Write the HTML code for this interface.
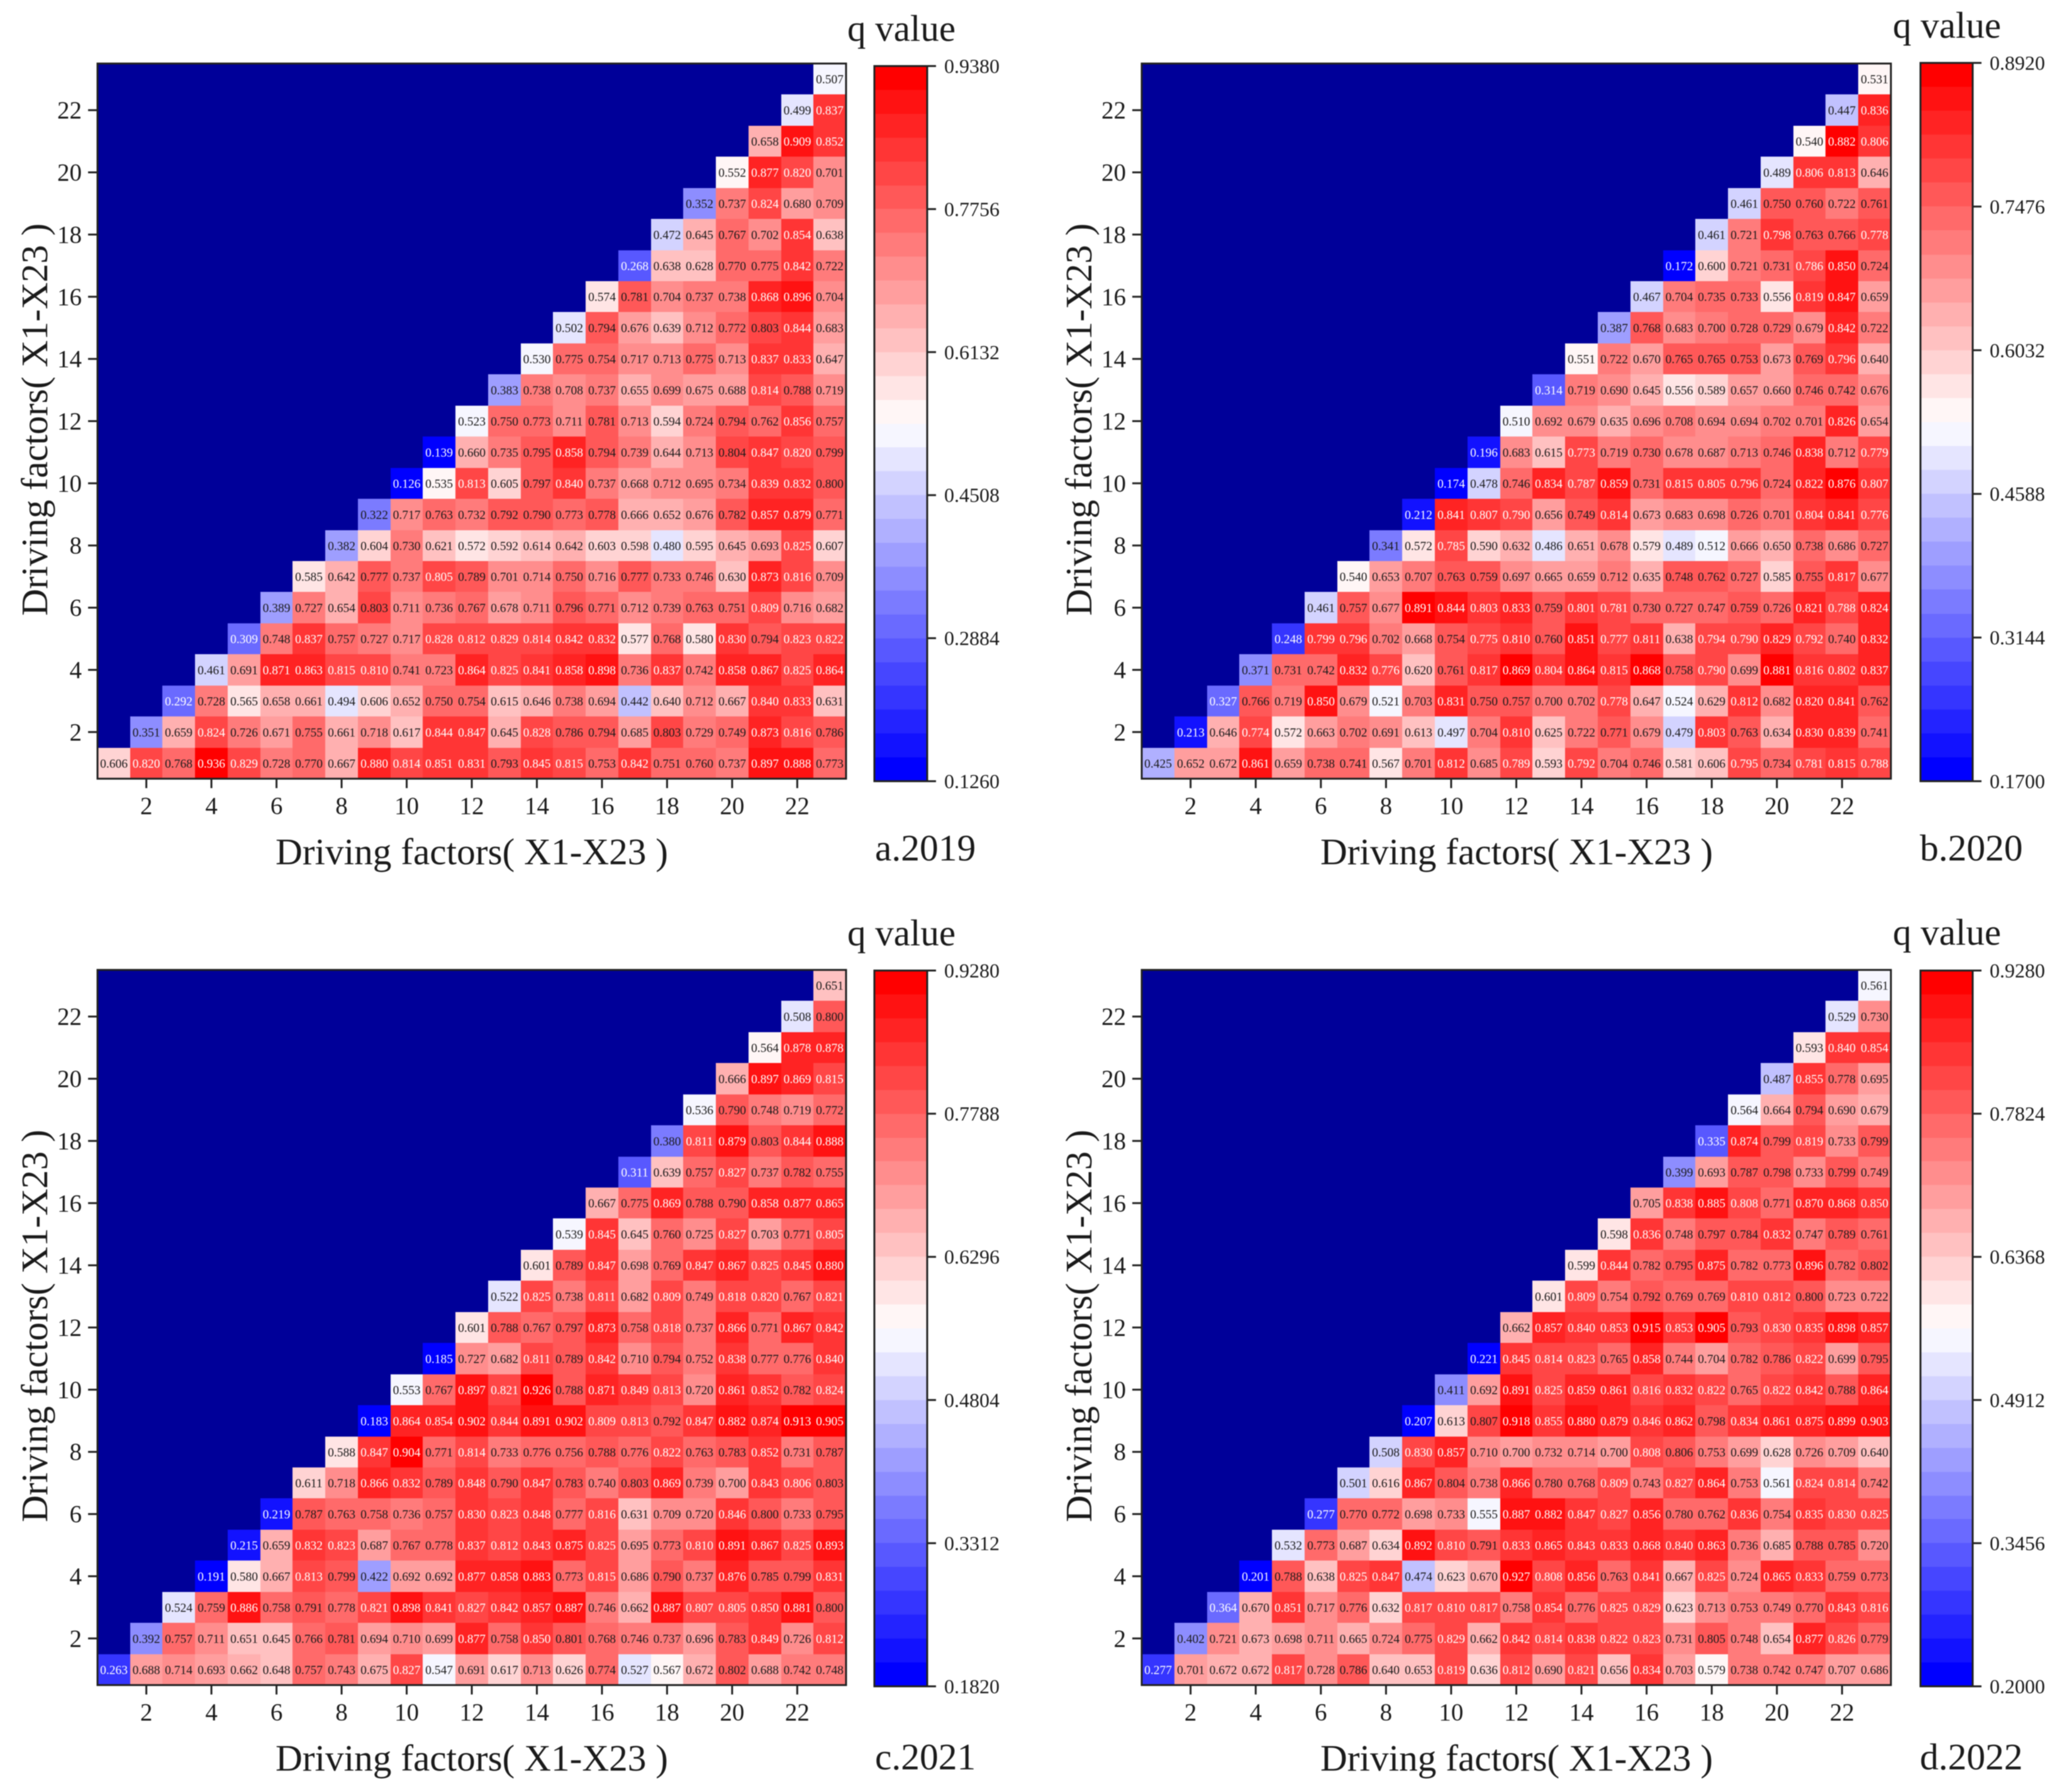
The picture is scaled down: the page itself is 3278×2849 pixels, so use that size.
<!DOCTYPE html>
<html lang="en">
<head>
<meta charset="utf-8">
<title>q value interaction heatmaps 2019-2022</title>
<style>
html,body{margin:0;padding:0;background:#fff;}
svg{display:block;filter:blur(0.7px);}
text{font-family:"Liberation Serif","Times New Roman",serif;fill:#1a1a1a;}
.axis-title{font-size:59.3px;}
.q-title{font-size:59px;}
.panel-label{font-size:59.5px;}
.tick-label{font-size:39px;}
.bar-label{font-size:32px;}
.cell-label{font-size:19.5px;text-anchor:middle;}
</style>
</head>
<body>
<svg id="chart" xmlns="http://www.w3.org/2000/svg" width="3278" height="2849" viewBox="0 0 3278 2849">
  <rect x="0" y="0" width="3278" height="2849" fill="#ffffff"/>
  <g id="layer-a"></g>
  <g id="layer-b"></g>
  <g id="layer-c"></g>
  <g id="layer-d"></g>

  <text class="axis-title" x="750" y="1374" text-anchor="middle">Driving factors( X1-X23 )</text>
  <text class="axis-title" transform="translate(75 667) rotate(-90)" text-anchor="middle">Driving factors( X1-X23 )</text>
  <text class="q-title" x="1347" y="65">q value</text>
  <text class="panel-label" x="1391" y="1368">a.2019</text>

  <text class="axis-title" x="2411" y="1374" text-anchor="middle">Driving factors( X1-X23 )</text>
  <text class="axis-title" transform="translate(1735 667) rotate(-90)" text-anchor="middle">Driving factors( X1-X23 )</text>
  <text class="q-title" x="3009" y="60">q value</text>
  <text class="panel-label" x="3052" y="1368">b.2020</text>

  <text class="axis-title" x="750" y="2815" text-anchor="middle">Driving factors( X1-X23 )</text>
  <text class="axis-title" transform="translate(75 2108) rotate(-90)" text-anchor="middle">Driving factors( X1-X23 )</text>
  <text class="q-title" x="1347" y="1503">q value</text>
  <text class="panel-label" x="1391" y="2813">c.2021</text>

  <text class="axis-title" x="2411" y="2815" text-anchor="middle">Driving factors( X1-X23 )</text>
  <text class="axis-title" transform="translate(1735 2108) rotate(-90)" text-anchor="middle">Driving factors( X1-X23 )</text>
  <text class="q-title" x="3009" y="1502">q value</text>
  <text class="panel-label" x="3052" y="2813">d.2022</text>
</svg>

<script>
// Axis tick labels shared by every heatmap
const axisTicks = [2,4,6,8,10,12,14,16,18,20,22];
const factorCount = 23;

// Colour-bar tick labels, top to bottom
const barTicksA = ["0.9380","0.7756","0.6132","0.4508","0.2884","0.1260"];
const barTicksB = ["0.8920","0.7476","0.6032","0.4588","0.3144","0.1700"];
const barTicksC = ["0.9280","0.7788","0.6296","0.4804","0.3312","0.1820"];
const barTicksD = ["0.9280","0.7824","0.6368","0.4912","0.3456","0.2000"];

// q values: each row starts on the diagonal; first row is X1 (bottom of the chart)
const valuesA = [
[.606,.820,.768,.936,.829,.728,.770,.667,.880,.814,.851,.831,.793,.845,.815,.753,.842,.751,.760,.737,.897,.888,.773],
[.351,.659,.824,.726,.671,.755,.661,.718,.617,.844,.847,.645,.828,.786,.794,.685,.803,.729,.749,.873,.816,.786],
[.292,.728,.565,.658,.661,.494,.606,.652,.750,.754,.615,.646,.738,.694,.442,.640,.712,.667,.840,.833,.631],
[.461,.691,.871,.863,.815,.810,.741,.723,.864,.825,.841,.858,.898,.736,.837,.742,.858,.867,.825,.864],
[.309,.748,.837,.757,.727,.717,.828,.812,.829,.814,.842,.832,.577,.768,.580,.830,.794,.823,.822],
[.389,.727,.654,.803,.711,.736,.767,.678,.711,.796,.771,.712,.739,.763,.751,.809,.716,.682],
[.585,.642,.777,.737,.805,.789,.701,.714,.750,.716,.777,.733,.746,.630,.873,.816,.709],
[.382,.604,.730,.621,.572,.592,.614,.642,.603,.598,.480,.595,.645,.693,.825,.607],
[.322,.717,.763,.732,.792,.790,.773,.778,.666,.652,.676,.782,.857,.879,.771],
[.126,.535,.813,.605,.797,.840,.737,.668,.712,.695,.734,.839,.832,.800],
[.139,.660,.735,.795,.858,.794,.739,.644,.713,.804,.847,.820,.799],
[.523,.750,.773,.711,.781,.713,.594,.724,.794,.762,.856,.757],
[.383,.738,.708,.737,.655,.699,.675,.688,.814,.788,.719],
[.530,.775,.754,.717,.713,.775,.713,.837,.833,.647],
[.502,.794,.676,.639,.712,.772,.803,.844,.683],
[.574,.781,.704,.737,.738,.868,.896,.704],
[.268,.638,.628,.770,.775,.842,.722],
[.472,.645,.767,.702,.854,.638],
[.352,.737,.824,.680,.709],
[.552,.877,.820,.701],
[.658,.909,.852],
[.499,.837],
[.507]
];
const valuesB = [
[.425,.652,.672,.861,.659,.738,.741,.567,.701,.812,.685,.789,.593,.792,.704,.746,.581,.606,.795,.734,.781,.815,.788],
[.213,.646,.774,.572,.663,.702,.691,.613,.497,.704,.810,.625,.722,.771,.679,.479,.803,.763,.634,.830,.839,.741],
[.327,.766,.719,.850,.679,.521,.703,.831,.750,.757,.700,.702,.778,.647,.524,.629,.812,.682,.820,.841,.762],
[.371,.731,.742,.832,.776,.620,.761,.817,.869,.804,.864,.815,.868,.758,.790,.699,.881,.816,.802,.837],
[.248,.799,.796,.702,.668,.754,.775,.810,.760,.851,.777,.811,.638,.794,.790,.829,.792,.740,.832],
[.461,.757,.677,.891,.844,.803,.833,.759,.801,.781,.730,.727,.747,.759,.726,.821,.788,.824],
[.540,.653,.707,.763,.759,.697,.665,.659,.712,.635,.748,.762,.727,.585,.755,.817,.677],
[.341,.572,.785,.590,.632,.486,.651,.678,.579,.489,.512,.666,.650,.738,.686,.727],
[.212,.841,.807,.790,.656,.749,.814,.673,.683,.698,.726,.701,.804,.841,.776],
[.174,.478,.746,.834,.787,.859,.731,.815,.805,.796,.724,.822,.876,.807],
[.196,.683,.615,.773,.719,.730,.678,.687,.713,.746,.838,.712,.779],
[.510,.692,.679,.635,.696,.708,.694,.694,.702,.701,.826,.654],
[.314,.719,.690,.645,.556,.589,.657,.660,.746,.742,.676],
[.551,.722,.670,.765,.765,.753,.673,.769,.796,.640],
[.387,.768,.683,.700,.728,.729,.679,.842,.722],
[.467,.704,.735,.733,.556,.819,.847,.659],
[.172,.600,.721,.731,.786,.850,.724],
[.461,.721,.798,.763,.766,.778],
[.461,.750,.760,.722,.761],
[.489,.806,.813,.646],
[.540,.882,.806],
[.447,.836],
[.531]
];
const valuesC = [
[.263,.688,.714,.693,.662,.648,.757,.743,.675,.827,.547,.691,.617,.713,.626,.774,.527,.567,.672,.802,.688,.742,.748],
[.392,.757,.711,.651,.645,.766,.781,.694,.710,.699,.877,.758,.850,.801,.768,.746,.737,.696,.783,.849,.726,.812],
[.524,.759,.886,.758,.791,.778,.821,.898,.841,.827,.842,.857,.887,.746,.662,.887,.807,.805,.850,.881,.800],
[.191,.580,.667,.813,.799,.422,.692,.692,.877,.858,.883,.773,.815,.686,.790,.737,.876,.785,.799,.831],
[.215,.659,.832,.823,.687,.767,.778,.837,.812,.843,.875,.825,.695,.773,.810,.891,.867,.825,.893],
[.219,.787,.763,.758,.736,.757,.830,.823,.848,.777,.816,.631,.709,.720,.846,.800,.733,.795],
[.611,.718,.866,.832,.789,.848,.790,.847,.783,.740,.803,.869,.739,.700,.843,.806,.803],
[.588,.847,.904,.771,.814,.733,.776,.756,.788,.776,.822,.763,.783,.852,.731,.787],
[.183,.864,.854,.902,.844,.891,.902,.809,.813,.792,.847,.882,.874,.913,.905],
[.553,.767,.897,.821,.926,.788,.871,.849,.813,.720,.861,.852,.782,.824],
[.185,.727,.682,.811,.789,.842,.710,.794,.752,.838,.777,.776,.840],
[.601,.788,.767,.797,.873,.758,.818,.737,.866,.771,.867,.842],
[.522,.825,.738,.811,.682,.809,.749,.818,.820,.767,.821],
[.601,.789,.847,.698,.769,.847,.867,.825,.845,.880],
[.539,.845,.645,.760,.725,.827,.703,.771,.805],
[.667,.775,.869,.788,.790,.858,.877,.865],
[.311,.639,.757,.827,.737,.782,.755],
[.380,.811,.879,.803,.844,.888],
[.536,.790,.748,.719,.772],
[.666,.897,.869,.815],
[.564,.878,.878],
[.508,.800],
[.651]
];
const valuesD = [
[.277,.701,.672,.672,.817,.728,.786,.640,.653,.819,.636,.812,.690,.821,.656,.834,.703,.579,.738,.742,.747,.707,.686],
[.402,.721,.673,.698,.711,.665,.724,.775,.829,.662,.842,.814,.838,.822,.823,.731,.805,.748,.654,.877,.826,.779],
[.364,.670,.851,.717,.776,.632,.817,.810,.817,.758,.854,.776,.825,.829,.623,.713,.753,.749,.770,.843,.816],
[.201,.788,.638,.825,.847,.474,.623,.670,.927,.808,.856,.763,.841,.667,.825,.724,.865,.833,.759,.773],
[.532,.773,.687,.634,.892,.810,.791,.833,.865,.843,.833,.868,.840,.863,.736,.685,.788,.785,.720],
[.277,.770,.772,.698,.733,.555,.887,.882,.847,.827,.856,.780,.762,.836,.754,.835,.830,.825],
[.501,.616,.867,.804,.738,.866,.780,.768,.809,.743,.827,.864,.753,.561,.824,.814,.742],
[.508,.830,.857,.710,.700,.732,.714,.700,.808,.806,.753,.699,.628,.726,.709,.640],
[.207,.613,.807,.918,.855,.880,.879,.846,.862,.798,.834,.861,.875,.899,.903],
[.411,.692,.891,.825,.859,.861,.816,.832,.822,.765,.822,.842,.788,.864],
[.221,.845,.814,.823,.765,.858,.744,.704,.782,.786,.822,.699,.795],
[.662,.857,.840,.853,.915,.853,.905,.793,.830,.835,.898,.857],
[.601,.809,.754,.792,.769,.769,.810,.812,.800,.723,.722],
[.599,.844,.782,.795,.875,.782,.773,.896,.782,.802],
[.598,.836,.748,.797,.784,.832,.747,.789,.761],
[.705,.838,.885,.808,.771,.870,.868,.850],
[.399,.693,.787,.798,.733,.799,.749],
[.335,.874,.799,.819,.733,.799],
[.564,.664,.794,.690,.679],
[.487,.855,.778,.695],
[.593,.840,.854],
[.529,.730],
[.561]
];

const SVG_NS = "http://www.w3.org/2000/svg";
const BAND_COUNT = 30;
const EMPTY_COLOR = "#000099";
const LINE_COLOR = "#222222";

function make(parent, tag, attrs) {
  const el = document.createElementNS(SVG_NS, tag);
  for (const key in attrs) el.setAttribute(key, attrs[key]);
  parent.appendChild(el);
  return el;
}

// Diverging blue-white-red ramp sampled at a band index
function bandColor(band) {
  const t = band / (BAND_COUNT - 1);
  let r, g, b;
  if (t < 0.5) {
    r = g = Math.round(255 * t * 2);
    b = 255;
  } else {
    r = 255;
    g = b = Math.round(255 * (1 - t) * 2);
  }
  return "rgb(" + r + "," + g + "," + b + ")";
}

function drawPanel(id, values, barTicks, plot, bar) {
  const layer = document.getElementById("layer-" + id);
  const scaleMax = parseFloat(barTicks[0]);
  const scaleMin = parseFloat(barTicks[barTicks.length - 1]);
  const norm = function (v) { return (v - scaleMin) / (scaleMax - scaleMin); };
  const cellW = (plot.right - plot.left) / factorCount;
  const cellH = (plot.bottom - plot.top) / factorCount;
  const xAt = function (f) { return plot.left + (f - 1) * cellW; };
  const yAt = function (f) { return plot.bottom - f * cellH; };

  const empty = make(layer, "rect", {x: plot.left, y: plot.top, width: plot.right - plot.left, height: plot.bottom - plot.top, fill: EMPTY_COLOR});
  
  

  values.forEach(function (row, r) {
    row.forEach(function (v, c) {
      const fy = r + 1;
      const fx = fy + c;
      const t = norm(v);
      const band = Math.max(0, Math.min(BAND_COUNT - 1, Math.floor(t * BAND_COUNT)));
      const x0 = Math.round(xAt(fx));
      const x1 = Math.round(xAt(fx + 1));
      const y0 = Math.round(yAt(fy));
      const y1 = Math.round(yAt(fy - 1));
      const cell = make(layer, "rect", {x: x0, y: y0, width: x1 - x0, height: y1 - y0, fill: bandColor(band)});
      
      
      const label = make(layer, "text", {"class": "cell-label", x: (x0 + x1) / 2, y: (y0 + y1) / 2 + 7});
      
      
      label.style.fill = (t > 0.835 || t < 0.23) ? "#ffffff" : "#1a1a1a";
      label.textContent = v.toFixed(3);
    });
  });

  const frame = make(layer, "rect", {x: plot.left, y: plot.top, width: plot.right - plot.left, height: plot.bottom - plot.top, fill: "none", stroke: LINE_COLOR, "stroke-width": 3});
  
  

  axisTicks.forEach(function (tick) {
    const cx = xAt(tick) + cellW / 2;
    const xTick = make(layer, "line", {x1: cx, x2: cx, y1: plot.bottom, y2: plot.bottom + 15, stroke: LINE_COLOR, "stroke-width": 3});
    
    
    const xLabel = make(layer, "text", {"class": "tick-label", x: cx, y: plot.bottom + 56, "text-anchor": "middle"});
    
    
    xLabel.textContent = tick;

    const cy = yAt(tick) + cellH / 2;
    const yTick = make(layer, "line", {x1: plot.left - 15, x2: plot.left, y1: cy, y2: cy, stroke: LINE_COLOR, "stroke-width": 3});
    
    
    const yLabel = make(layer, "text", {"class": "tick-label", x: plot.left - 25, y: cy + 13, "text-anchor": "end"});
    
    
    yLabel.textContent = tick;
  });

  const bandH = (bar.bottom - bar.top) / BAND_COUNT;
  for (let i = 0; i < BAND_COUNT; i++) {
    const y0 = Math.round(bar.bottom - (i + 1) * bandH);
    const y1 = Math.round(bar.bottom - i * bandH);
    const swatch = make(layer, "rect", {x: bar.left, y: y0, width: bar.right - bar.left, height: y1 - y0, fill: bandColor(i)});
    
    
  }
  const barFrame = make(layer, "rect", {x: bar.left, y: bar.top, width: bar.right - bar.left, height: bar.bottom - bar.top, fill: "none", stroke: LINE_COLOR, "stroke-width": 3});
  
  

  barTicks.forEach(function (text) {
    const ty = bar.top + (scaleMax - parseFloat(text)) / (scaleMax - scaleMin) * (bar.bottom - bar.top);
    const mark = make(layer, "line", {x1: bar.right, x2: bar.right + 14, y1: ty, y2: ty, stroke: LINE_COLOR, "stroke-width": 3});
    
    
    const label = make(layer, "text", {"class": "bar-label", x: bar.right + 27, y: ty + 11});
    
    
    label.textContent = text;
  });
}

drawPanel("a", valuesA, barTicksA, {left: 155, right: 1345, top: 101, bottom: 1238}, {left: 1390, right: 1474, top: 105, bottom: 1242});
drawPanel("b", valuesB, barTicksB, {left: 1815, right: 3006, top: 101, bottom: 1238}, {left: 3053, right: 3136, top: 100, bottom: 1242});
drawPanel("c", valuesC, barTicksC, {left: 155, right: 1345, top: 1542, bottom: 2679}, {left: 1390, right: 1474, top: 1543, bottom: 2681});
drawPanel("d", valuesD, barTicksD, {left: 1815, right: 3006, top: 1542, bottom: 2679}, {left: 3053, right: 3136, top: 1543, bottom: 2681});
</script>
</body>
</html>
